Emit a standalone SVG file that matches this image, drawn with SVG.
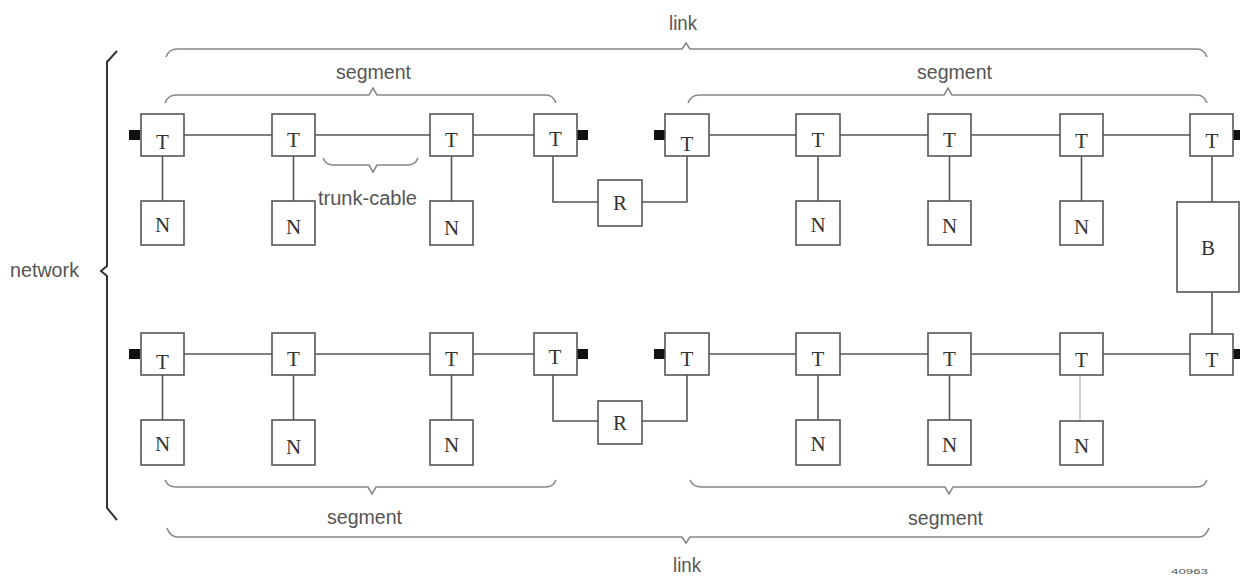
<svg xmlns="http://www.w3.org/2000/svg" width="1240" height="576" viewBox="0 0 1240 576">
<defs>
<style>
.box{fill:#fff;stroke:#555;stroke-width:1.6}
.ln{fill:none;stroke:#555;stroke-width:1.6}
.ln2{fill:none;stroke:#bbb;stroke-width:1.4}
.br{fill:none;stroke:#888;stroke-width:1.6}
.nb{fill:none;stroke:#333;stroke-width:2}
.term{fill:#111}
.lt{font-family:"Liberation Serif","Times New Roman",serif;font-size:21px;fill:#333;text-anchor:middle}
.lb{font-family:"Liberation Sans",Arial,sans-serif;font-size:20px;fill:#555}
.tiny{font-family:"Liberation Sans",Arial,sans-serif;font-size:7px;fill:#555}
</style>
</defs>
<rect width="1240" height="576" fill="#fff"/>

<g id="connectors">
<path class="ln" d="M184,135H272M315,135H430M473,135H534M709,135H796M840,135H928M971,135H1060M1103,135H1190"/>
<path class="ln" d="M184,354H272M315,354H430M473,354H534M709,354H796M840,354H928M971,354H1060M1103,354H1190"/>
<path class="ln" d="M162.5,156V201M293.5,156V201M451.5,156V201M818,156V201M949.5,156V201M1081.5,156V201"/>
<path class="ln" d="M162.5,375V420M293.5,375V420M451.5,375V420M818,375V420M949.5,375V420"/>
<path class="ln2" d="M1080,375V421"/>
<path class="ln" d="M553,156V202H598M687,156V202H642"/>
<path class="ln" d="M553,375V421H598M687,375V421H642"/>
<path class="ln" d="M1212,156V202M1212,292V334"/>
<rect class="term" x="129" y="130" width="11" height="10"/>
<rect class="term" x="577" y="130" width="11" height="10"/>
<rect class="term" x="654" y="130" width="11" height="10"/>
<rect class="term" x="1233" y="130" width="7" height="10"/>
<rect class="term" x="129" y="349" width="11" height="10"/>
<rect class="term" x="577" y="349" width="11" height="10"/>
<rect class="term" x="654" y="349" width="11" height="10"/>
<rect class="term" x="1233" y="349" width="7" height="10"/>
</g>

<g id="braces">
<path id="brace-link-top" class="br" d="M166,57Q169,49 177,49H682L686,43L690,49H1197Q1204,49 1207,57"/>
<path id="brace-seg-tl" class="br" d="M165,103Q168,95 176,95H369L373,88L377,95H546Q553,95 556,103"/>
<path id="brace-seg-tr" class="br" d="M688,103Q691,95 699,95H944L948,88L952,95H1197Q1204,95 1207,103"/>
<path id="brace-trunk" class="br" d="M323,158Q326,165 333,165H369L373,172L377,165H408Q415,165 418,158"/>
<path id="brace-seg-bl" class="br" d="M165,480Q168,487 176,487H368L372,494L376,487H546Q553,487 556,480"/>
<path id="brace-seg-br" class="br" d="M690,480Q693,487 701,487H945L949,494L953,487H1197Q1204,487 1207,480"/>
<path id="brace-link-bottom" class="br" d="M167,528Q170,537 178,537H682L686,543L690,537H1199Q1206,537 1209,528"/>
<path id="brace-network" class="nb" d="M117,51L107,62V266L101,271L107,276V508L117,520"/>
</g>

<g id="labels">
<text class="lb" x="669" y="30" textLength="28" lengthAdjust="spacingAndGlyphs">link</text>
<text class="lb" x="336" y="79" textLength="75" lengthAdjust="spacingAndGlyphs">segment</text>
<text class="lb" x="917" y="79" textLength="75" lengthAdjust="spacingAndGlyphs">segment</text>
<text class="lb" x="318" y="205" textLength="99" lengthAdjust="spacingAndGlyphs">trunk-cable</text>
<text class="lb" x="10" y="277" textLength="69" lengthAdjust="spacingAndGlyphs">network</text>
<text class="lb" x="327" y="524" textLength="75" lengthAdjust="spacingAndGlyphs">segment</text>
<text class="lb" x="908" y="525" textLength="75" lengthAdjust="spacingAndGlyphs">segment</text>
<text class="lb" x="673" y="572" textLength="28" lengthAdjust="spacingAndGlyphs">link</text>
<text class="tiny" x="1171" y="574" textLength="37" lengthAdjust="spacingAndGlyphs">40963</text>
</g>

<g id="t1"><rect class="box" x="141" y="114" width="43" height="42"/><text class="lt" x="162.5" y="149">T</text></g>
<g id="t2"><rect class="box" x="272" y="114" width="43" height="42"/><text class="lt" x="293.5" y="147">T</text></g>
<g id="t3"><rect class="box" x="430" y="114" width="43" height="42"/><text class="lt" x="451.5" y="147">T</text></g>
<g id="t4"><rect class="box" x="534" y="114" width="43" height="42"/><text class="lt" x="555.5" y="146">T</text></g>
<g id="t5"><rect class="box" x="665" y="114" width="44" height="42"/><text class="lt" x="687" y="151">T</text></g>
<g id="t6"><rect class="box" x="796" y="114" width="44" height="42"/><text class="lt" x="818" y="147">T</text></g>
<g id="t7"><rect class="box" x="928" y="114" width="43" height="42"/><text class="lt" x="949.5" y="147">T</text></g>
<g id="t8"><rect class="box" x="1060" y="114" width="43" height="42"/><text class="lt" x="1081.5" y="148">T</text></g>
<g id="t9"><rect class="box" x="1190" y="114" width="43" height="42"/><text class="lt" x="1212" y="148">T</text></g>
<g id="n1"><rect class="box" x="141" y="201" width="43" height="44"/><text class="lt" x="162.5" y="232">N</text></g>
<g id="n2"><rect class="box" x="272" y="201" width="43" height="44"/><text class="lt" x="293.5" y="234">N</text></g>
<g id="n3"><rect class="box" x="430" y="201" width="43" height="44"/><text class="lt" x="451.5" y="235">N</text></g>
<g id="n6"><rect class="box" x="796" y="201" width="44" height="44"/><text class="lt" x="818" y="232">N</text></g>
<g id="n7"><rect class="box" x="928" y="201" width="43" height="44"/><text class="lt" x="949.5" y="233">N</text></g>
<g id="n8"><rect class="box" x="1060" y="201" width="43" height="44"/><text class="lt" x="1081.5" y="234">N</text></g>
<g id="r1"><rect class="box" x="598" y="180" width="44" height="46"/><text class="lt" x="620" y="210">R</text></g>
<g id="b"><rect class="box" x="1177" y="202" width="62" height="90"/><text class="lt" x="1208" y="255">B</text></g>

<g id="t10"><rect class="box" x="141" y="333" width="43" height="42"/><text class="lt" x="162.5" y="369">T</text></g>
<g id="t11"><rect class="box" x="272" y="333" width="43" height="42"/><text class="lt" x="293.5" y="366">T</text></g>
<g id="t12"><rect class="box" x="430" y="333" width="43" height="42"/><text class="lt" x="451.5" y="366">T</text></g>
<g id="t13"><rect class="box" x="534" y="333" width="43" height="42"/><text class="lt" x="555" y="364">T</text></g>
<g id="t14"><rect class="box" x="665" y="333" width="44" height="42"/><text class="lt" x="687" y="366">T</text></g>
<g id="t15"><rect class="box" x="796" y="333" width="44" height="42"/><text class="lt" x="818" y="366">T</text></g>
<g id="t16"><rect class="box" x="928" y="333" width="43" height="42"/><text class="lt" x="949.5" y="366">T</text></g>
<g id="t17"><rect class="box" x="1060" y="333" width="43" height="42"/><text class="lt" x="1081.5" y="367">T</text></g>
<g id="t18"><rect class="box" x="1190" y="334" width="43" height="41"/><text class="lt" x="1212" y="367">T</text></g>
<g id="n10"><rect class="box" x="141" y="420" width="43" height="45"/><text class="lt" x="162.5" y="451">N</text></g>
<g id="n11"><rect class="box" x="272" y="420" width="43" height="45"/><text class="lt" x="293.5" y="454">N</text></g>
<g id="n12"><rect class="box" x="430" y="420" width="43" height="45"/><text class="lt" x="451.5" y="452">N</text></g>
<g id="n15"><rect class="box" x="796" y="420" width="44" height="45"/><text class="lt" x="818" y="451">N</text></g>
<g id="n16"><rect class="box" x="928" y="420" width="43" height="45"/><text class="lt" x="949.5" y="452">N</text></g>
<g id="n17"><rect class="box" x="1060" y="421" width="43" height="44"/><text class="lt" x="1081.5" y="453">N</text></g>
<g id="r2"><rect class="box" x="598" y="401" width="44" height="43"/><text class="lt" x="620" y="430">R</text></g>
</svg>
